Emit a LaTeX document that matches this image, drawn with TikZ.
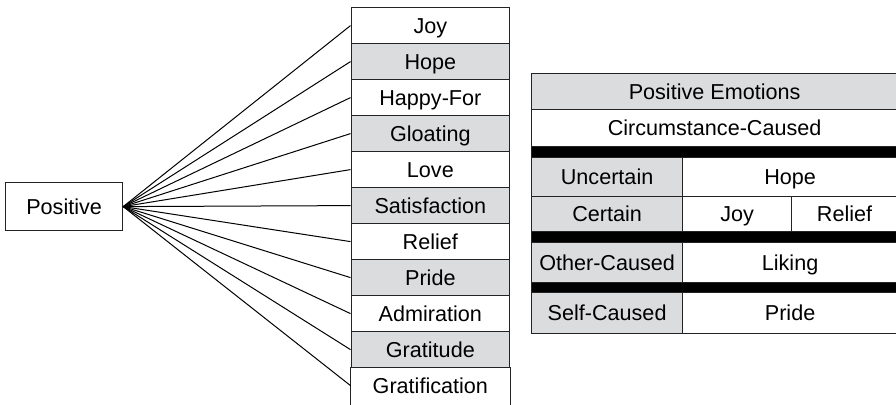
\documentclass[tikz,border=0pt]{standalone}
\usepackage{fontspec}
\setmainfont{Liberation Sans}
\definecolor{cellgray}{RGB}{219,220,222}
\definecolor{edge}{RGB}{35,35,35}

\begin{document}
\begin{tikzpicture}[x=0.75pt,y=-0.75pt,
  every node/.style={font=\fontsize{16.2}{19}\selectfont, inner sep=0pt,
    text height=11.6pt, text depth=0pt},
  sz/.style 2 args={minimum width=#1*0.75pt, minimum height=#2*0.75pt},
  cell/.style={draw=edge, line width=0.9pt, anchor=north west},
  shaded/.style={cell, fill=cellgray},
  plain/.style={cell, fill=white},
  openend/.style={cell, draw=none},
  bar/.style={fill=black, draw=edge, line width=0.9pt, anchor=north west},
  link/.style={line width=0.75pt, black}
]
\clip (0,0) rectangle (896,404);
\fill[white] (0,0) rectangle (896,404);

% root node on the left
\node[plain, sz={117}{48}] (pos) at (5,182) {Positive};

% column of emotion types
\foreach \t/\f [count=\i] in {Joy/plain, Hope/shaded, Happy-For/plain,
    Gloating/shaded, Love/plain, Satisfaction/shaded, Relief/plain,
    Pride/shaded, Admiration/plain, Gratitude/shaded, Gratification/openend}
  \node[\f, sz={158.5}{36}] (c\i) at (350.5, {7+36*(\i-1)}) {\t};
% the last cell stays open at the lower edge
\draw[edge, line width=0.9pt] (c11.north west) -- ++(0,40)
                              (c11.north east) -- ++(0,40);

% fan of connectors
\foreach \i in {1,...,11}
  \draw[link] (pos.east) -- (c\i.west);

% table of positive emotions
\node[shaded, sz={366}{36}] (head) at (531,73) {Positive Emotions};
\node[plain,  sz={366}{37}] (circ) at (531,109) {Circumstance-Caused};
\node[bar,    sz={366}{11}] (bar1) at (531,146) {};
\node[shaded, sz={151}{39}] (unc)  at (531,157) {Uncertain};
\node[plain,  sz={215}{39}] (hope) at (682,157) {Hope};
\node[shaded, sz={151}{35}] (cer)  at (531,196) {Certain};
\node[plain,  sz={109}{35}] (joy)  at (682,196) {Joy};
\node[plain,  sz={106}{35}] (rel)  at (791,196) {Relief};
\node[bar,    sz={366}{11}] (bar2) at (531,231) {};
\node[shaded, sz={151}{40}] (oth)  at (531,242) {Other-Caused};
\node[plain,  sz={215}{40}] (lik)  at (682,242) {Liking};
\node[bar,    sz={366}{10}] (bar3) at (531,282) {};
\node[shaded, sz={151}{41}] (self) at (531,292) {Self-Caused};
\node[plain,  sz={215}{41}] (prid) at (682,292) {Pride};
\end{tikzpicture}
\end{document}
